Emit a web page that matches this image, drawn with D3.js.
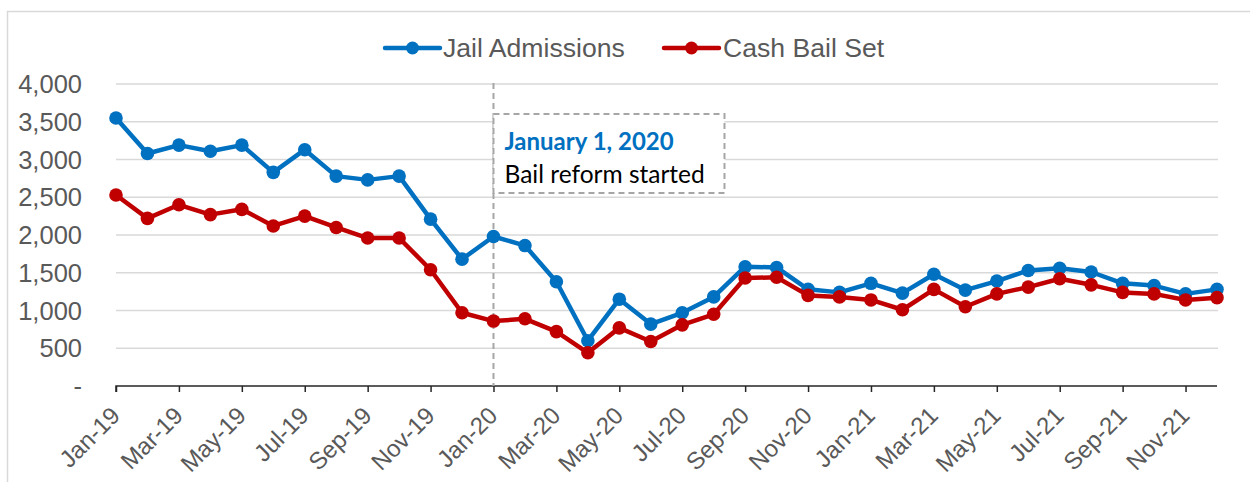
<!DOCTYPE html>
<html>
<head>
<meta charset="utf-8">
<script src="https://cdn.jsdelivr.net/npm/d3@7"></script>
<style>
  body { margin: 0; background: #fff; }
  svg { display: block; }
</style>
</head>
<body>
<div id="chart"></div>
<script>
// ---- data ----
const months = [
  "Jan-19","Feb-19","Mar-19","Apr-19","May-19","Jun-19","Jul-19","Aug-19","Sep-19","Oct-19","Nov-19","Dec-19",
  "Jan-20","Feb-20","Mar-20","Apr-20","May-20","Jun-20","Jul-20","Aug-20","Sep-20","Oct-20","Nov-20","Dec-20",
  "Jan-21","Feb-21","Mar-21","Apr-21","May-21","Jun-21","Jul-21","Aug-21","Sep-21","Oct-21","Nov-21","Dec-21"
];
const jailAdmissions = [
  3550, 3080, 3190, 3110, 3190, 2830, 3130, 2780, 2730, 2780, 2210, 1680,
  1980, 1860, 1380, 600, 1150, 820, 970, 1180, 1580, 1570, 1280, 1240,
  1360, 1230, 1480, 1270, 1390, 1530, 1560, 1510, 1360, 1330, 1220, 1280
];
const cashBailSet = [
  2530, 2220, 2400, 2270, 2340, 2120, 2250, 2100, 1960, 1960, 1540, 970,
  860, 890, 720, 440, 770, 590, 810, 950, 1430, 1440, 1200, 1180,
  1140, 1010, 1280, 1050, 1220, 1310, 1420, 1340, 1240, 1220, 1140, 1170
];
const yTicks = [0, 500, 1000, 1500, 2000, 2500, 3000, 3500, 4000];
const series = [
  { name: "Jail Admissions", values: jailAdmissions, color: "#0070C0" },
  { name: "Cash Bail Set", values: cashBailSet, color: "#C00000" }
];
const reformMonth = "Jan-20";

// ---- layout ----
const width = 1250, height = 482;
const x0 = 116, x1 = 1217, yTop = 84, yBottom = 386;
const sans = "Liberation Sans, Arial, sans-serif";

const svg = d3.select("#chart").append("svg")
  .attr("width", width)
  .attr("height", height);

// outer chart border
svg.append("rect")
  .attr("x", 7.5).attr("y", 11.5)
  .attr("width", 1260).attr("height", 500)
  .attr("fill", "none")
  .attr("stroke", "#D9D9D9")
  .attr("stroke-width", 1.5);

const x = d3.scalePoint().domain(months).range([x0, x1]);
const y = d3.scaleLinear().domain([0, 4000]).range([yBottom, yTop]);

// gridlines
svg.append("g")
  .selectAll("line")
  .data(yTicks.filter(d => d > 0))
  .join("line")
  .attr("x1", x0).attr("x2", x1 + 1)
  .attr("y1", d => y(d)).attr("y2", d => y(d))
  .attr("stroke", "#D9D9D9")
  .attr("stroke-width", 1.5);

// y axis labels
const fmt = d3.format(",");
svg.append("g")
  .selectAll("text")
  .data(yTicks)
  .join("text")
  .attr("x", 82)
  .attr("y", d => y(d))
  .attr("dy", "0.36em")
  .attr("text-anchor", "end")
  .style("font-family", sans)
  .style("font-size", "25.5px")
  .attr("fill", "#595959")
  .text(d => d === 0 ? "-" : fmt(d));

// x axis (every second month ticked and labelled)
const xAxis = d3.axisBottom(x)
  .tickSize(6)
  .tickFormat(d => d);
const gx = svg.append("g")
  .attr("transform", `translate(0,${yBottom})`)
  .call(xAxis);
gx.select(".domain").attr("stroke", "#262626").attr("stroke-width", 1.5)
  .attr("d", `M${x0},6V0H${x1}`);
gx.selectAll(".tick").filter((d, i) => i % 2 === 1).remove();
gx.selectAll(".tick line").attr("stroke", "#262626").attr("stroke-width", 1.5);
gx.selectAll(".tick text")
  .style("font-family", sans)
  .style("font-size", "24px")
  .attr("fill", "#595959")
  .attr("text-anchor", "end")
  .attr("x", 0).attr("y", 0).attr("dy", 0)
  .attr("transform", "translate(5,31) rotate(-45)");

// reform marker line
svg.append("line")
  .attr("x1", x(reformMonth)).attr("x2", x(reformMonth))
  .attr("y1", yTop - 1).attr("y2", yBottom)
  .attr("stroke", "#A6A6A6")
  .attr("stroke-width", 2)
  .attr("stroke-dasharray", "6,4");

// annotation box
const ann = svg.append("g").attr("transform", `translate(${x(reformMonth)},114)`);
ann.append("rect")
  .attr("x", 0).attr("y", 0)
  .attr("width", 231).attr("height", 79)
  .attr("fill", "#fff")
  .attr("stroke", "#A6A6A6")
  .attr("stroke-width", 2)
  .attr("stroke-dasharray", "6,4");
ann.append("text")
  .attr("x", 11).attr("y", 36)
  .style("font-family", "Lato, Open Sans, sans-serif")
  .style("font-size", "24px")
  .style("font-weight", "bold")
  .attr("fill", "#0070C0")
  .text("January 1, 2020");
ann.append("text")
  .attr("x", 11).attr("y", 69)
  .style("font-family", "Lato, Open Sans, sans-serif")
  .style("font-size", "24.5px")
  .attr("fill", "#000")
  .text("Bail reform started");

// lines + markers
const line = d3.line()
  .x((d, i) => x(months[i]))
  .y(d => y(d));

series.forEach(s => {
  svg.append("path")
    .datum(s.values)
    .attr("d", line)
    .attr("fill", "none")
    .attr("stroke", s.color)
    .attr("stroke-width", 4.5)
    .attr("stroke-linejoin", "round");
  svg.append("g")
    .selectAll("circle")
    .data(s.values)
    .join("circle")
    .attr("cx", (d, i) => x(months[i]))
    .attr("cy", d => y(d))
    .attr("r", 6.8)
    .attr("fill", s.color);
});

// legend
const legendItems = [
  { s: series[0], lx: 385, tx: 443 },
  { s: series[1], lx: 664, tx: 723 }
];
legendItems.forEach(l => {
  const g = svg.append("g");
  g.append("line")
    .attr("x1", l.lx).attr("x2", l.lx + 55)
    .attr("y1", 48).attr("y2", 48)
    .attr("stroke", l.s.color).attr("stroke-width", 4.5)
    .attr("stroke-linecap", "round");
  g.append("circle")
    .attr("cx", l.lx + 27.5).attr("cy", 48).attr("r", 6.5)
    .attr("fill", l.s.color);
  g.append("text")
    .attr("x", l.tx).attr("y", 57)
    .style("font-family", sans)
    .style("font-size", "26.6px")
    .attr("fill", "#595959")
    .text(l.s.name);
});
</script>
</body>
</html>
